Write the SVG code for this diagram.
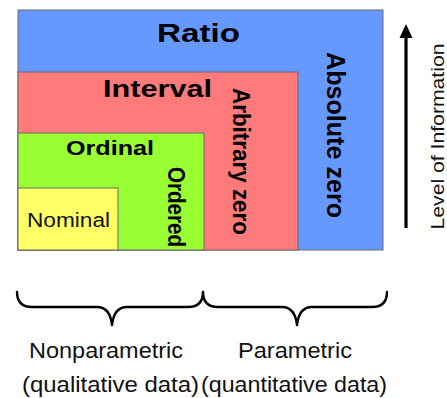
<svg xmlns="http://www.w3.org/2000/svg" width="447" height="398" viewBox="0 0 447 398">
  <defs>
    <style>
      .box { stroke: #6b6b6b; stroke-width: 1; }
      .bold { font-family: "Liberation Sans", Arial, sans-serif; font-weight: bold; fill: #000; }
      .plain { font-family: "Liberation Sans", Arial, sans-serif; fill: #111; }
      .brace { fill: none; stroke: #000; stroke-width: 2.4; stroke-linecap: round; stroke-linejoin: round; }
    </style>
  </defs>
  <rect width="447" height="398" fill="#ffffff"/>

  <!-- Nested measurement scales -->
  <g id="ratio">
    <rect class="box" x="18" y="10" width="365" height="240" fill="#6699ff"/>
    <text class="bold" x="157" y="42" font-size="26.5" textLength="83" lengthAdjust="spacingAndGlyphs">Ratio</text>
    <text class="bold" font-size="25" text-anchor="middle" textLength="166" lengthAdjust="spacingAndGlyphs" transform="translate(327,135) rotate(90)">Absolute zero</text>
  </g>

  <g id="interval">
    <rect class="box" x="18" y="72" width="280" height="178" fill="#ff7a7a"/>
    <text class="bold" x="103" y="97" font-size="24" textLength="109" lengthAdjust="spacingAndGlyphs">Interval</text>
    <text class="bold" font-size="22.4" text-anchor="middle" textLength="147" lengthAdjust="spacingAndGlyphs" transform="translate(233,161.5) scale(1.06,1) rotate(90)">Arbitrary zero</text>
  </g>

  <g id="ordinal">
    <rect class="box" x="18" y="133" width="186" height="117" fill="#99ff33"/>
    <text class="bold" x="66" y="155" font-size="21" textLength="88" lengthAdjust="spacingAndGlyphs">Ordinal</text>
    <text class="bold" font-size="20.5" text-anchor="middle" textLength="80" lengthAdjust="spacingAndGlyphs" transform="translate(168,207) scale(1.15,1) rotate(90)">Ordered</text>
  </g>

  <g id="nominal">
    <rect class="box" x="18" y="188" width="100" height="62" fill="#ffff66"/>
    <text class="plain" x="27" y="227" font-size="20.5" textLength="83" lengthAdjust="spacingAndGlyphs">Nominal</text>
  </g>

  <!-- Axis arrow and grouping braces -->
  <g id="connectors">
    <line x1="406" y1="228" x2="406" y2="36" stroke="#000" stroke-width="3.2"/>
    <polygon points="406,24 399.5,38 412.5,38" fill="#000"/>
    <path class="brace" d="M17,292 Q17,307 32,307 L97,307 Q110,307 112,325 Q114,307 127,307 L188,307 Q203,307 203,292"/>
    <path class="brace" d="M203,292 Q203,307 218,307 L282,307 Q295,307 297,325 Q299,307 312,307 L372,307 Q387,307 387,292"/>
  </g>

  <g id="level-label">
    <text class="plain" font-size="19" text-anchor="middle" textLength="186" lengthAdjust="spacingAndGlyphs" transform="translate(444,136.5) rotate(-90)">Level of Information</text>
  </g>

  <g id="nonparametric">
    <text class="plain" x="29" y="358" font-size="22" textLength="154" lengthAdjust="spacingAndGlyphs">Nonparametric</text>
    <text class="plain" x="22" y="392" font-size="22" textLength="177" lengthAdjust="spacingAndGlyphs">(qualitative data)</text>
  </g>

  <g id="parametric">
    <text class="plain" x="238" y="358" font-size="22" textLength="114" lengthAdjust="spacingAndGlyphs">Parametric</text>
    <text class="plain" x="201" y="392" font-size="22" textLength="186" lengthAdjust="spacingAndGlyphs">(quantitative data)</text>
  </g>
</svg>
